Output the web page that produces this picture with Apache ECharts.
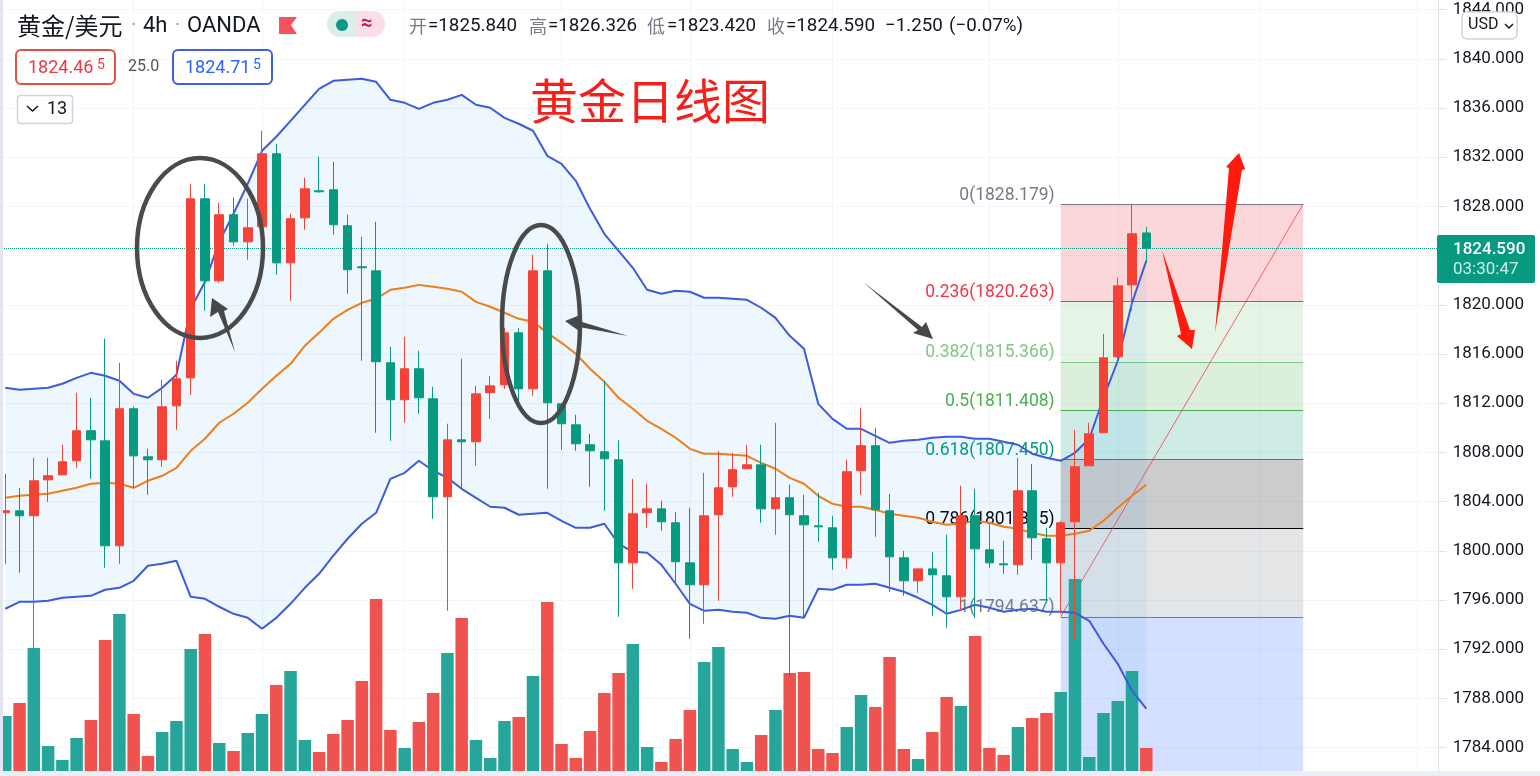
<!DOCTYPE html>
<html>
<head>
<meta charset="utf-8">
<title>黄金/美元 4h</title>
<script src="https://cdn.jsdelivr.net/npm/echarts@6/dist/echarts.min.js"></script>
<style>
html, body { margin: 0; padding: 0; background: #fff; }
#echarts { width: 1540px; height: 776px; }
</style>
</head>
<body>
<div id="echarts"></div>
<script>
var opens = [1803.09,1803.25,1802.85,1805.77,1806.18,1807.32,1809.76,1808.94,1800.41,1811.55,1807.64,1807.40,1811.79,1814.06,1828.62,1821.95,1827.32,1825.12,1826.34,1832.28,1823.41,1827.07,1829.27,1829.35,1826.43,1823.09,1822.76,1815.29,1812.28,1814.80,1812.36,1804.39,1809.02,1808.86,1812.85,1813.50,1817.72,1813.17,1822.76,1811.95,1810.24,1808.62,1808.05,1807.40,1799.02,1803.09,1803.41,1802.28,1799.02,1797.24,1802.93,1805.20,1806.67,1806.99,1803.41,1804.31,1802.85,1802.03,1801.87,1799.43,1806.51,1808.54,1803.25,1799.43,1797.56,1798.53,1797.97,1796.26,1802.85,1800.08,1798.94,1798.86,1804.88,1800.98,1799.02,1802.36,1806.91,1809.60,1815.77,1821.62,1825.84]
var closes = [1803.25,1802.85,1805.69,1806.10,1807.24,1809.76,1809.02,1800.41,1811.55,1807.72,1807.40,1811.71,1813.98,1828.62,1821.95,1827.32,1825.12,1826.26,1832.28,1823.41,1827.00,1829.43,1829.19,1826.51,1822.85,1823.01,1815.37,1812.28,1814.80,1812.44,1804.39,1809.02,1808.86,1812.76,1813.41,1817.72,1813.17,1822.76,1812.03,1810.33,1808.70,1808.13,1807.48,1799.02,1803.01,1803.41,1802.36,1799.11,1797.24,1802.85,1805.12,1806.59,1806.99,1803.41,1804.31,1802.93,1802.11,1801.95,1799.43,1806.43,1808.54,1803.33,1799.51,1797.56,1798.53,1798.05,1796.26,1802.85,1800.16,1799.02,1798.86,1804.88,1801.06,1799.02,1802.28,1806.83,1809.51,1815.69,1821.54,1825.77,1824.59]
var lows = [1798.94,1798.21,1791.63,1803.98,1806.18,1806.75,1805.85,1798.62,1798.94,1805.12,1804.55,1806.83,1809.84,1812.68,1819.51,1821.79,1824.80,1823.66,1826.34,1822.44,1820.33,1826.10,1829.11,1825.69,1820.90,1815.45,1809.60,1808.94,1810.41,1811.14,1802.60,1795.12,1805.12,1806.91,1810.73,1813.17,1812.19,1812.60,1805.04,1808.21,1808.13,1805.20,1803.25,1794.63,1796.91,1801.87,1801.63,1797.32,1792.85,1794.07,1795.94,1804.39,1806.67,1802.28,1801.30,1789.84,1794.55,1800.73,1798.45,1798.53,1804.55,1801.14,1796.67,1796.34,1796.58,1794.72,1793.74,1795.12,1794.55,1798.62,1798.13,1798.05,1799.27,1795.77,1794.88,1792.76,1806.91,1809.60,1815.20,1819.51,1823.42]
var highs = [1806.26,1805.12,1807.56,1807.56,1808.62,1812.85,1812.44,1817.24,1815.29,1811.71,1808.29,1813.90,1815.45,1829.84,1829.84,1828.29,1828.70,1828.62,1834.15,1833.09,1827.40,1830.33,1832.03,1831.63,1827.32,1825.53,1826.75,1816.59,1817.40,1816.26,1813.33,1810.33,1815.61,1813.41,1814.23,1818.13,1818.13,1824.07,1824.96,1811.95,1811.06,1809.51,1813.82,1809.02,1805.85,1805.45,1804.07,1803.17,1803.50,1806.34,1808.13,1807.97,1808.62,1808.62,1810.41,1805.37,1804.55,1804.72,1802.85,1807.40,1811.63,1810.00,1804.63,1800.00,1798.53,1799.92,1801.30,1805.29,1805.04,1802.20,1800.81,1807.56,1807.07,1801.87,1802.44,1809.84,1810.41,1817.64,1822.20,1828.13,1826.33]

var bollUpper = [1813.25,1813.09,1813.17,1813.25,1813.58,1814.06,1814.47,1814.23,1813.82,1812.76,1812.44,1813.25,1814.31,1819.68,1821.87,1825.12,1827.40,1829.84,1832.52,1833.66,1834.96,1836.26,1837.56,1838.21,1838.29,1838.37,1838.13,1836.67,1836.42,1835.93,1836.42,1836.67,1837.07,1836.26,1836.02,1835.20,1834.72,1834.15,1832.11,1831.46,1830.08,1827.80,1825.77,1824.39,1823.01,1821.22,1820.90,1821.14,1821.06,1820.57,1820.57,1820.49,1820.41,1819.76,1818.94,1817.48,1816.42,1811.95,1810.73,1809.92,1809.92,1809.35,1808.78,1808.94,1809.02,1809.19,1809.27,1809.27,1809.11,1809.11,1808.86,1808.62,1807.89,1807.56,1807.32,1807.97,1809.11,1812.44,1815.45,1820.16,1823.58]
var bollMiddle = [1804.31,1804.47,1804.55,1804.63,1804.88,1805.12,1805.45,1805.53,1805.45,1805.12,1805.69,1806.10,1806.75,1808.13,1809.11,1810.41,1811.14,1812.03,1813.17,1814.23,1815.20,1816.67,1817.72,1818.86,1819.59,1820.16,1820.49,1821.22,1821.38,1821.62,1821.46,1821.30,1821.06,1820.24,1819.84,1819.35,1818.86,1818.62,1817.72,1816.91,1816.02,1814.80,1813.74,1812.44,1811.55,1810.57,1809.92,1809.19,1808.29,1807.89,1807.89,1807.80,1807.72,1807.15,1806.67,1805.93,1805.45,1804.47,1803.82,1803.58,1803.58,1803.33,1803.01,1802.85,1802.68,1802.36,1802.11,1802.20,1802.44,1802.28,1801.95,1801.79,1801.46,1801.22,1801.22,1801.38,1801.63,1802.44,1803.50,1804.47,1805.37]
var bollLower = [1795.29,1795.85,1795.85,1795.94,1796.18,1796.26,1796.34,1796.83,1796.99,1797.56,1798.78,1798.94,1799.19,1796.26,1796.10,1795.45,1794.88,1794.55,1793.66,1794.55,1795.69,1796.99,1798.13,1799.60,1800.98,1802.20,1803.09,1805.85,1806.34,1807.32,1806.51,1805.93,1805.04,1804.31,1803.58,1803.50,1802.93,1803.01,1803.09,1802.44,1801.87,1801.87,1802.20,1800.57,1799.92,1799.84,1798.86,1797.32,1795.69,1795.12,1795.20,1795.04,1794.96,1794.55,1794.47,1794.72,1794.55,1796.91,1796.83,1797.24,1797.24,1797.32,1796.99,1796.67,1796.18,1795.61,1794.88,1795.20,1795.61,1795.37,1795.04,1795.20,1795.29,1795.04,1795.04,1794.96,1794.31,1792.44,1790.81,1788.62,1787.16]

var volumes = [55,68,123,25,11,33,51,131,157,57,15,39,50,122,137,28,20,38,57,86,100,31,19,37,51,90,172,41,23,49,78,118,153,31,13,50,54,95,169,27,13,40,78,98,127,24,9,32,61,109,124,22,9,36,61,98,99,22,18,44,76,64,114,22,12,39,74,65,135,23,16,44,53,58,79,192,14,58,70,100,23]
var volumeColors = ['G','R','G','G','G','G','R','R','G','R','R','G','G','G','R','G','R','G','G','R','G','G','R','R','R','R','R','R','G','R','R','G','R','G','G','G','R','G','R','R','R','R','R','R','G','G','R','R','R','G','G','G','G','R','G','R','R','R','R','G','G','R','R','R','G','R','R','G','R','R','R','G','R','R','G','G','G','G','G','G','R']

var fibLevels = [1828.179,1820.263,1815.366,1811.408,1807.450,1801.815,1794.637]
var fibNames = ['0','0.236','0.382','0.5','0.618','0.786','1']
var fibColors = ['#787b86','#f23645','#81c784','#4caf50','#089981','#000000','#787b86']
var fibFills = ['rgba(242,54,69,.2)','rgba(129,199,132,.2)','rgba(76,175,80,.2)','rgba(8,153,129,.2)','rgba(0,0,0,.2)','rgba(120,123,134,.2)','rgba(41,98,255,.2)']
var fibStart = 74, fibEnd = 91

var timeLines = [9,18,28,39,48,58,69,78,88,99]
var lastPrice = 1824.59
var slotCount = 101

var FONT = 'Roboto, "Noto Sans CJK SC", sans-serif'
var CJK = '"Noto Sans CJK SC", sans-serif'
var RED = '#f44336', GREEN = '#089981'

var slots = []
for (var i = 0; i < slotCount; i++) slots.push(String(i))

var candles = opens.map(function (o, i) { return [o, closes[i], lows[i], highs[i]] })
var bollWidth = bollUpper.map(function (u, i) { return +(u - bollLower[i]).toFixed(2) })
var volumeBars = volumes.map(function (v, i) {
    return { value: v, itemStyle: { color: volumeColors[i] == 'G' ? '#26a69a' : '#ef5350' } }
})

var fibLines = fibLevels.map(function (lv, i) {
    return [{
        coord: [fibStart, lv],
        lineStyle: { color: fibColors[i], width: 1, type: 'solid' },
        label: {
            show: true, position: 'start', distance: 6, offset: [0, -9],
            formatter: fibNames[i] + '(' + lv.toFixed(3) + ')',
            color: fibColors[i], fontSize: 17.5, fontFamily: FONT
        }
    }, { coord: [fibEnd, lv] }]
})
fibLines.push([{
    coord: [fibStart, fibLevels[6]],
    lineStyle: { color: '#f23645', width: 1, type: 'solid', opacity: .75 },
    label: { show: false }
}, { coord: [fibEnd, fibLevels[0]] }])
fibLines.push([{
    yAxis: lastPrice, x: 0,
    lineStyle: { color: GREEN, width: 1, type: 'dotted' },
    label: { show: false }
}, { yAxis: lastPrice, x: 1437 }])

var fibAreas = fibFills.map(function (c, i) {
    var next = i < 6 ? fibLevels[i + 1] : 1782
    return [{ coord: [fibStart, fibLevels[i]], itemStyle: { color: c } }, { coord: [fibEnd, next] }]
})

function text(str, x, y, size, fill, extra) {
    var st = { text: str, x: x, y: y, fill: fill, font: size + 'px ' + FONT, textVerticalAlign: 'middle' }
    for (var k in extra || {}) st[k] = extra[k]
    return { type: 'text', z: 100, silent: true, style: st }
}
function box(x, y, w, h, stroke, fill, r, lw) {
    return {
        type: 'rect', z: 99, silent: true,
        shape: { x: x, y: y, width: w, height: h, r: r },
        style: { stroke: stroke, fill: fill, lineWidth: lw || 1.5 }
    }
}
function poly(points, fill) {
    return { type: 'polygon', z: 98, silent: true, shape: { points: points }, style: { fill: fill } }
}
function ring(cx, cy, rx, ry) {
    return {
        type: 'ellipse', z: 97, silent: true,
        shape: { cx: cx, cy: cy, rx: rx, ry: ry },
        style: { stroke: '#4a4a4a', lineWidth: 4.5, fill: 'none' }
    }
}

var overlay = [
    // page edges
    box(0, 0, 3, 776, 'none', '#e4e5f1', 0, 0),
    box(0, 771, 1540, 5, 'none', '#eceef5', 0, 0),

    // hand drawn marks
    ring(200, 248, 63, 90),
    ring(541, 324, 39, 99),
    poly([[212,298],[228,309],[224,311],[235,352],[218,312],[210,317]], '#484848'),
    poly([[565,321],[580,315],[579,321],[628,336],[579,327],[579,331]], '#484848'),
    poly([[863,282],[922,327],[926,322],[933,339],[913,333],[918,330]], '#484848'),
    poly([[1162,250],[1190,330],[1195,330],[1192,349],[1177,336],[1181,334]], '#ff1a0d'),
    poly([[1215,333],[1229,168],[1226,167],[1239,153],[1245,169],[1242,170]], '#ff1a0d'),
    { type: 'text', z: 100, silent: true, style: { text: '黄金日线图', x: 530, y: 101, fill: '#f5201a', font: '48px ' + CJK, textVerticalAlign: 'middle' } },

    // header
    text('黄金/美元', 17, 26, 24, '#131722', { font: '24px ' + CJK }),
    text('·', 131, 26, 20, '#9598a1'),
    text('4h', 143, 26, 22, '#131722'),
    text('·', 175, 26, 20, '#9598a1'),
    text('OANDA', 187, 26, 22, '#131722'),
    poly([[279,17],[297,17],[291,25],[297,34],[279,34]], '#f7525f'),
    { type: 'rect', z: 99, silent: true, shape: { x: 327, y: 11, width: 29, height: 26, r: [13, 0, 0, 13] }, style: { fill: '#dbeeea' } },
    { type: 'rect', z: 99, silent: true, shape: { x: 356, y: 11, width: 29, height: 26, r: [0, 13, 13, 0] }, style: { fill: '#fbdfe8' } },
    { type: 'circle', z: 100, silent: true, shape: { cx: 342, cy: 25, r: 6 }, style: { fill: GREEN } },
    text('≈', 361, 24, 20, '#c2185b', { font: 'bold 20px ' + FONT }),

    text('开', 409, 26, 18, '#787b86', { font: '18px ' + CJK }),
    text('=1825.840', 428, 26, 18.8, '#131722'),
    text('高', 529, 26, 18, '#787b86', { font: '18px ' + CJK }),
    text('=1826.326', 548, 26, 18.8, '#131722'),
    text('低', 647, 26, 18, '#787b86', { font: '18px ' + CJK }),
    text('=1823.420', 667, 26, 18.8, '#131722'),
    text('收', 767, 26, 18, '#787b86', { font: '18px ' + CJK }),
    text('=1824.590', 786, 26, 18.8, '#131722'),
    text('−1.250', 885, 26, 18.8, '#131722'),
    text('(−0.07%)', 949, 26, 18.8, '#131722'),

    // bid and ask
    box(16, 50, 99, 34, '#e0533f', '#fff', 5, 2),
    text('1824.46', 28, 68, 18, '#f23645'),
    text('5', 97, 65, 14, '#f23645'),
    text('25.0', 128, 67, 16, '#50535e'),
    box(173, 50, 99, 34, '#3b62d8', '#fff', 5, 2),
    text('1824.71', 185, 68, 18, '#2962ff'),
    text('5', 253, 65, 14, '#2962ff'),

    box(17.5, 95.5, 55, 28, '#d1d4dc', '#fff', 3, 1.5),
    { type: 'polyline', z: 100, silent: true, shape: { points: [[27,106],[32.5,111],[38,106]] }, style: { stroke: '#131722', lineWidth: 1.5, fill: 'none' } },
    text('13', 47, 109, 18, '#131722'),

    box(1462, 12, 55, 27, '#d1d4dc', '#fff', 5, 1.5),
    text('USD', 1468, 25, 16, '#131722'),
    { type: 'polyline', z: 100, silent: true, shape: { points: [[1505,24],[1509,28],[1513,24]] }, style: { stroke: '#131722', lineWidth: 1.5, fill: 'none' } },

    // price tag
    box(1437, 235, 98, 48, 'none', GREEN, 2, 0),
    text('1824.590', 1453, 250, 17, '#ffffff', { font: '500 17px ' + FONT }),
    text('03:30:47', 1453, 270, 17, '#c9efe8')
]

var container = document.getElementById('echarts')
var chart = echarts.init(container)

chart.setOption({
    animation: false,
    backgroundColor: '#fff',
    textStyle: { fontFamily: FONT },
    // price grid overshoots the canvas so that min/max stay multiples of 4
    grid: [
        { left: -1.83, top: -39.6, width: 1440.5, height: 836.4, outerBoundsMode: 'none' },
        { left: -1.83, top: 0, width: 1440.5, height: 771, outerBoundsMode: 'none' }
    ],
    xAxis: [{
        type: 'category', gridIndex: 0, data: slots,
        axisLine: { show: false }, axisTick: { show: false }, axisLabel: { show: false },
        splitLine: {
            show: true, alignWithLabel: true,
            interval: function (i) { return timeLines.indexOf(i) >= 0 },
            lineStyle: { color: '#f3f5fa', width: 1 }
        }
    }, {
        type: 'category', gridIndex: 1, data: slots,
        axisLine: { show: false }, axisTick: { show: false }, axisLabel: { show: false }, splitLine: { show: false }
    }],
    yAxis: [{
        type: 'value', gridIndex: 0, position: 'right', scale: true,
        min: 1780, max: 1848, interval: 4,
        axisLine: { show: true, lineStyle: { color: '#e0e3eb' } },
        axisTick: { show: true, length: 8, lineStyle: { color: '#e0e3eb' } },
        axisLabel: { margin: 14, color: '#131722', fontSize: 17, fontFamily: FONT, formatter: function (v) { return v.toFixed(3) } },
        splitLine: { lineStyle: { color: '#f3f5fa', width: 1 } }
    }, {
        type: 'value', gridIndex: 1, min: 0, max: 771, show: false
    }],
    series: [{
        name: 'fib', type: 'line', data: [], z: 1, silent: true,
        markArea: { silent: true, z: 1, data: fibAreas },
        markLine: { silent: true, z: 1, symbol: ['none', 'none'], data: fibLines }
    }, {
        name: 'volume', type: 'bar', xAxisIndex: 1, yAxisIndex: 1, data: volumeBars, barWidth: 12.5, z: 3, silent: true
    }, {
        name: 'bollBase', type: 'line', data: bollLower, stack: 'boll', symbol: 'none', lineStyle: { width: 0 }, z: 2, silent: true
    }, {
        name: 'bollFill', type: 'line', data: bollWidth, stack: 'boll', symbol: 'none', lineStyle: { width: 0 },
        areaStyle: { color: 'rgba(33,150,243,.11)' }, z: 2, silent: true
    }, {
        name: 'upper', type: 'line', data: bollUpper, symbol: 'none', lineStyle: { color: '#3d5bdc', width: 2 }, z: 4, silent: true
    }, {
        name: 'lower', type: 'line', data: bollLower, symbol: 'none', lineStyle: { color: '#3d5bdc', width: 2 }, z: 4, silent: true
    }, {
        name: 'middle', type: 'line', data: bollMiddle, symbol: 'none', lineStyle: { color: '#ef7d1a', width: 2 }, z: 4, silent: true
    }, {
        name: 'candles', type: 'candlestick', data: candles, barWidth: 9, z: 6, silent: true,
        itemStyle: { color: RED, color0: GREEN, borderColor: RED, borderColor0: GREEN, borderWidth: 1 }
    }],
    graphic: { elements: overlay }
})
</script>
</body>
</html>
